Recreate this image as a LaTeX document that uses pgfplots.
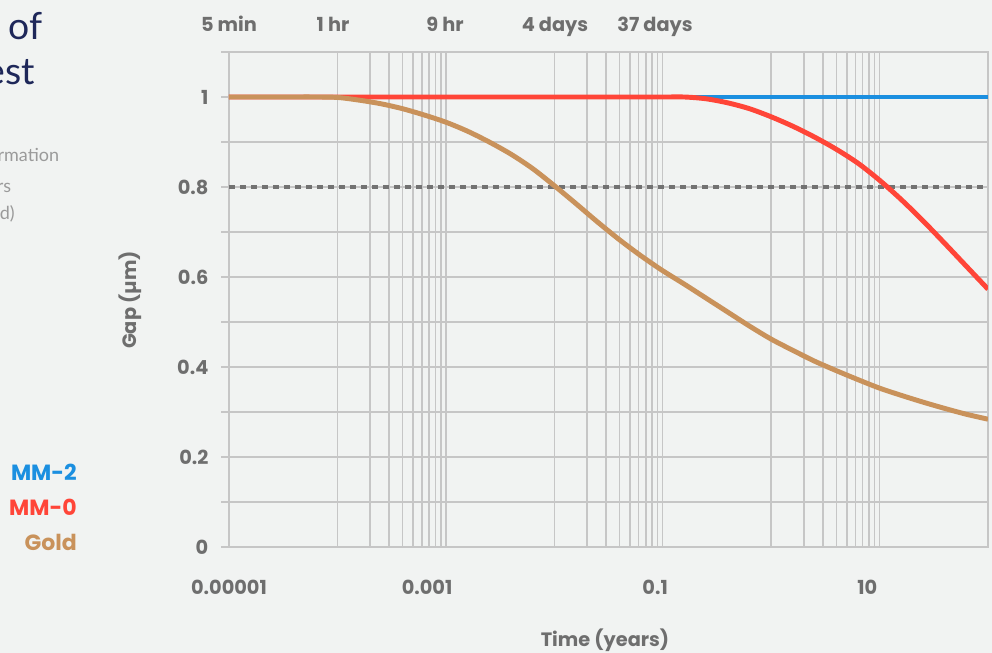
\documentclass[border=0pt]{standalone}
\usepackage{fontspec}
\setmainfont{Lato}
\newfontfamily\pop{Poppins}
\usepackage{pgfplots}
\pgfplotsset{compat=1.18}
\definecolor{bg}{HTML}{F1F3F2}
\definecolor{txt}{HTML}{6E6E6E}
\definecolor{gridc}{HTML}{C6C6C6}
\definecolor{mmtwo}{HTML}{1B8FE0}
\definecolor{mmzero}{HTML}{FF4538}
\definecolor{gold}{HTML}{C9925B}
\definecolor{navy}{HTML}{1E2759}
\definecolor{light}{HTML}{9A9A9A}
\definecolor{dashc}{HTML}{727272}
\begin{document}
\begin{tikzpicture}
\path[use as bounding box, fill=bg] (0,0) rectangle (744pt,489.75pt);
\begin{axis}[
  at={(171.75pt,79.5pt)}, anchor=south west,
  scale only axis, width=569.25pt, height=371.25pt,
  xmode=log, log basis x=10,
  xmin=1e-5, xmax=100, ymin=0, ymax=1.1,
  xtick={1e-5,6.71e-4,0.0851,7.69},
  xticklabels={0.00001,0.001,0.1,10},
  minor xtick={1e-4,2e-4,3e-4,4e-4,5e-4,6e-4,7e-4,8e-4,9e-4,1e-3,
               1e-2,2e-2,3e-2,4e-2,5e-2,6e-2,7e-2,8e-2,9e-2,0.1,
               1,2,3,4,5,6,7,8,9,10,100},
  xmajorgrids=false, xminorgrids=true,
  ytick={0,0.1,0.2,0.3,0.4,0.5,0.6,0.7,0.8,0.9,1,1.1},
  yticklabels={0,,0.2,,0.4,,0.6,,0.8,,1,},
  ymajorgrids=true,
  grid style={gridc, line width=1.1pt},
  minor grid style={gridc, line width=1.1pt},
  axis line style={gridc, line width=1.1pt},
  tick align=outside,
  major tick length=6pt, minor tick length=0pt,
  xtick pos=bottom, ytick pos=left,
  x tick style={draw=none},
  minor x tick style={draw=none},
  y tick style={gridc, line width=1.1pt},
  tick label style={font=\pop\bfseries\fontsize{14.5}{17}\selectfont, color=txt},
  xticklabel style={yshift=-15pt},
  yticklabel style={xshift=-6pt},
  /pgf/number format/assume math mode=true,
]
\addplot[dashc, line width=2.4pt, dash pattern=on 4.5pt off 3.75pt] coordinates {(1e-5,0.8) (100,0.8)};
\addplot[mmtwo, line width=3.7pt] coordinates {(1e-5,1) (100,1)};
\addplot[mmzero, line width=3.7pt, smooth] table {
x y
1e-5 1
1e-4 1
1e-3 1
1e-2 1
0.1 1
0.1585 1.0
0.2512 0.996
0.3981 0.987
0.6310 0.974
1 0.956
1.585 0.935
2.512 0.911
3.981 0.884
6.310 0.853
10 0.815
15.85 0.772
25.12 0.725
39.81 0.675
63.10 0.624
100 0.573
};
\addplot[gold, line width=3.7pt, smooth] table {
x y
1e-5 1
3.162e-5 1
6.310e-5 1
1e-4 0.999
1.585e-4 0.993
2.512e-4 0.985
3.981e-4 0.974
6.310e-4 0.960
1e-3 0.944
1.585e-3 0.924
2.512e-3 0.900
3.981e-3 0.873
6.310e-3 0.841
1e-2 0.803
1.585e-2 0.763
2.512e-2 0.722
3.981e-2 0.683
6.310e-2 0.647
0.1 0.614
0.1585 0.584
0.2512 0.553
0.3981 0.522
0.6310 0.491
1 0.462
1.585 0.437
2.512 0.413
3.981 0.392
6.310 0.372
10 0.353
15.85 0.337
25.12 0.322
39.81 0.308
63.10 0.295
100 0.284
};
\end{axis}
% top time labels
\begin{scope}[every node/.style={font=\pop\bfseries\fontsize{14.5}{17}\selectfont, text=txt, anchor=base, inner sep=0pt}]
\node at (171.75pt,465.75pt) {5 min};
\node at (249.75pt,465.75pt) {1 hr};
\node at (333.75pt,465.75pt) {9 hr};
\node at (416.25pt,465.75pt) {4 days};
\node at (491.25pt,465.75pt) {37 days};
\end{scope}
\begin{scope}[every node/.style={font=\pop\bfseries\fontsize{14.5}{17}\selectfont, text=txt, anchor=center}]
\node at (453.75pt,9.75pt) {Time (years)};
\node[rotate=90] at (97.5pt,264.75pt) {Gap (µm)};
\end{scope}
% legend
\begin{scope}[every node/.style={font=\pop\bfseries\fontsize{16.5}{19}\selectfont, anchor=base east, inner sep=0pt}]
\node[text=mmtwo] at (57.75pt,129pt) {MM-2};
\node[text=mmzero] at (57.75pt,102.75pt) {MM-0};
\node[text=gold] at (57.75pt,76.5pt) {Gold};
\end{scope}
% clipped title and description
\node[anchor=base east, inner sep=0pt, text=navy, font=\fontsize{28}{32}\selectfont] at (32pt,459.75pt) {Projected lifetime of};
\node[anchor=base east, inner sep=0pt, text=navy, font=\fontsize{28}{32}\selectfont] at (26.5pt,426pt) {contact test};
\begin{scope}[every node/.style={anchor=base east, inner sep=0pt, text=light, font=\fontsize{13.5}{16}\selectfont}]
\node at (44.5pt,368.25pt) {deformation};
\node at (8.5pt,345pt) {years};
\node at (11.25pt,324.75pt) {(accelerated)};
\end{scope}
\end{tikzpicture}
\end{document}
